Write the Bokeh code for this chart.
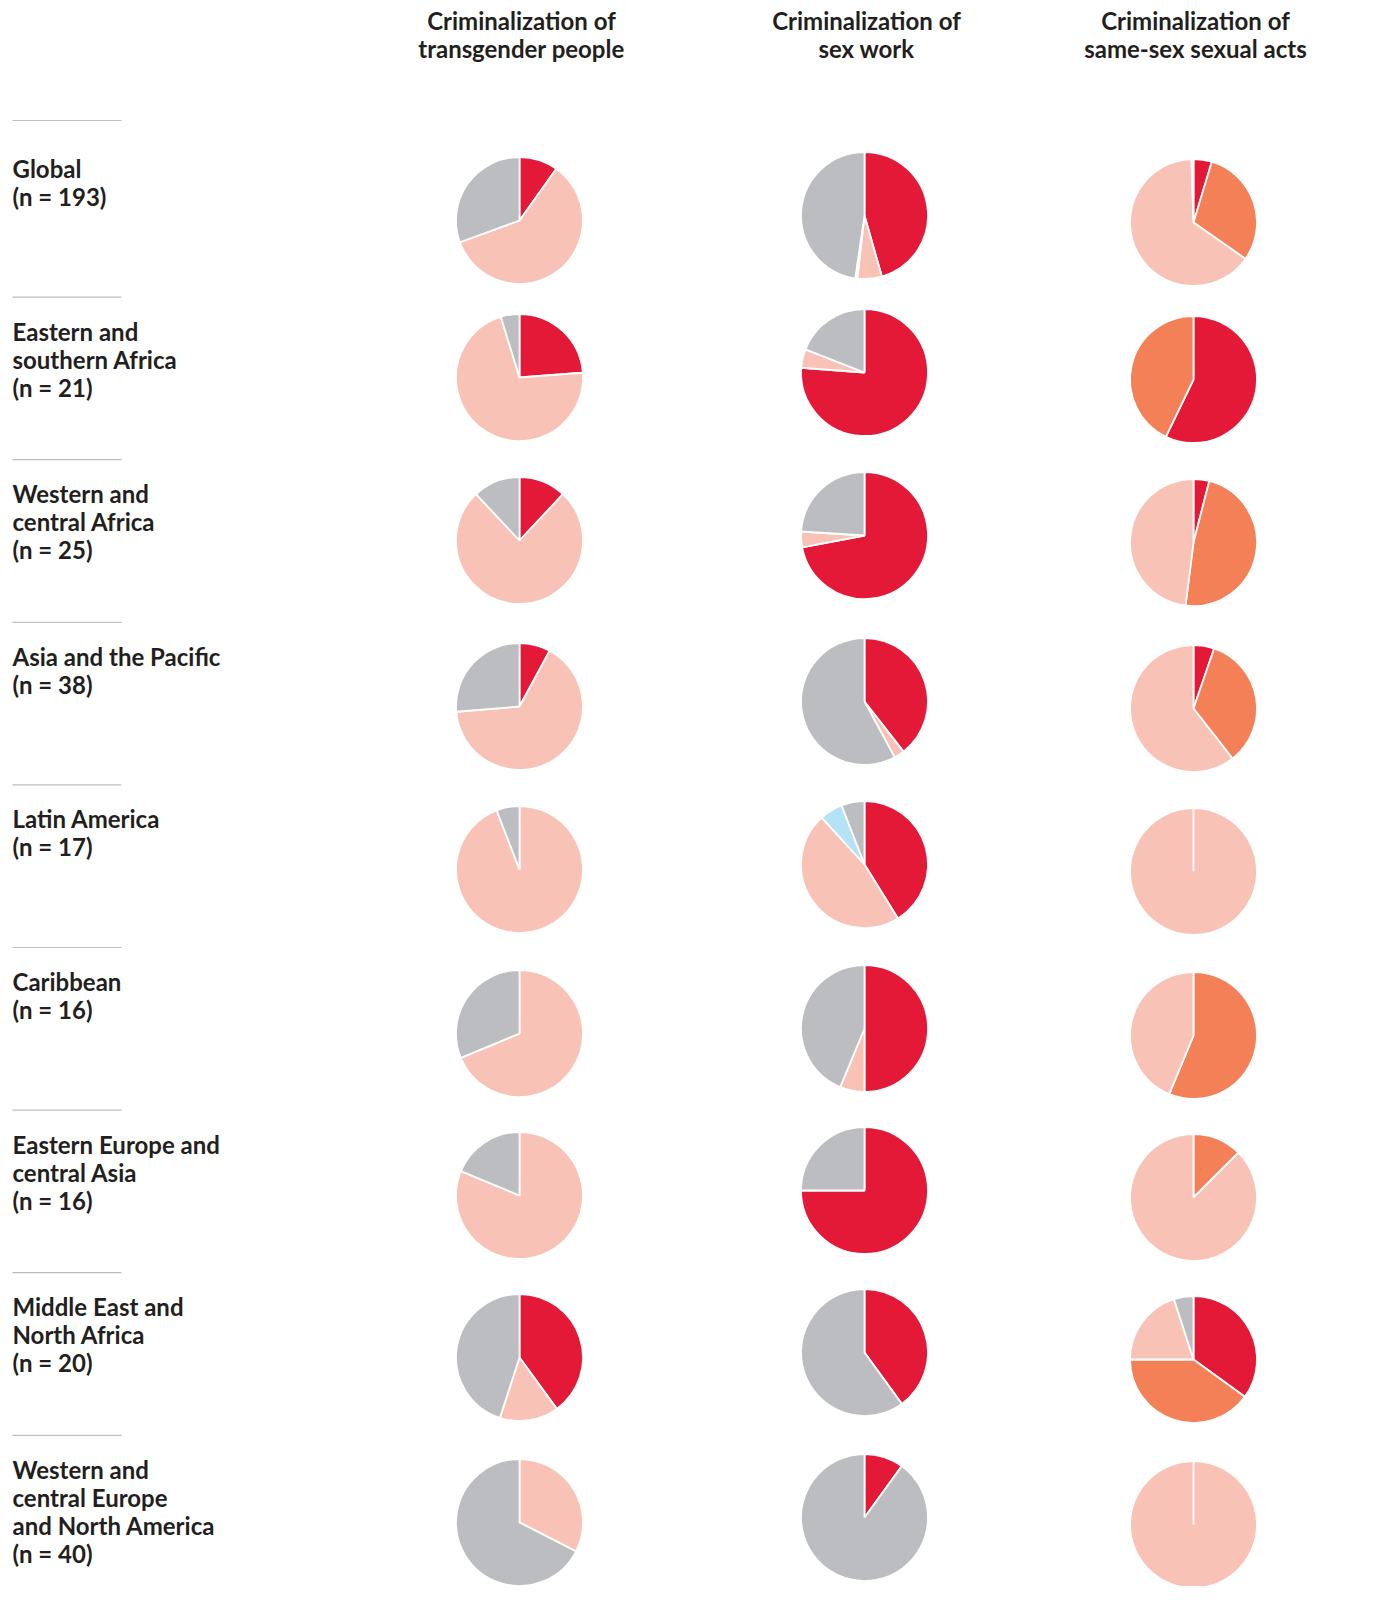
import math
from bokeh.plotting import figure
from bokeh.models import ColumnDataSource, Range1d
from bokeh.embed import file_html
from bokeh.resources import INLINE
from bokeh.core.properties import value

# ---------------- data ----------------
region_labels = [
    ["Global", "(n = 193)"],
    ["Eastern and", "southern Africa", "(n = 21)"],
    ["Western and", "central Africa", "(n = 25)"],
    ["Asia and the Pacific", "(n = 38)"],
    ["Latin America", "(n = 17)"],
    ["Caribbean", "(n = 16)"],
    ["Eastern Europe and", "central Asia", "(n = 16)"],
    ["Middle East and", "North Africa", "(n = 20)"],
    ["Western and", "central Europe", "and North America", "(n = 40)"],
]

column_titles = [
    ["Criminalization of", "transgender people"],
    ["Criminalization of", "sex work"],
    ["Criminalization of", "same-sex sexual acts"],
]

# Criminalization of transgender people (number of countries)
trans_criminalized = [19, 5, 3, 3, 0, 0, 0, 8, 0]
trans_not_criminalized = [115, 15, 19, 25, 16, 11, 13, 3, 13]
trans_no_data = [59, 1, 3, 10, 1, 5, 3, 9, 27]

# Criminalization of sex work
sw_criminalized = [88, 16, 18, 15, 7, 8, 12, 8, 4]
sw_not_criminalized = [12, 1, 1, 1, 8, 1, 0, 0, 0]
sw_legal = [1, 0, 0, 0, 1, 0, 0, 0, 0]
sw_no_data = [92, 4, 6, 22, 1, 7, 4, 12, 36]

# Criminalization of same-sex sexual acts
ss_red = [9, 12, 1, 2, 0, 0, 0, 7, 0]
ss_orange = [58, 9, 12, 13, 0, 9, 2, 8, 0]
ss_not_criminalized = [125, 0, 12, 23, 17, 7, 14, 4, 40]
ss_no_data = [1, 0, 0, 0, 0, 0, 0, 1, 0]

RED = "#E31937"
ORANGE = "#F48058"
PINK = "#F9C2B6"
GREY = "#BCBDC0"
BLUE = "#B5E2F7"
TEXT = "#231F20"

series_per_column = [
    [(trans_criminalized, RED), (trans_not_criminalized, PINK), (trans_no_data, GREY)],
    [(sw_criminalized, RED), (sw_not_criminalized, PINK), (sw_legal, BLUE), (sw_no_data, GREY)],
    [(ss_red, RED), (ss_orange, ORANGE), (ss_not_criminalized, PINK), (ss_no_data, GREY)],
]

# ---------------- layout ----------------
W, H = 1376, 1586
col_x = [519, 864, 1193]          # page x of pie columns
col_dy = [0, -5, 2]               # small vertical offset per column
pie_row_y = [220, 377, 540, 706, 869, 1033, 1195, 1357, 1522]
label_row0, label_pitch = 168, 162.6
radius = 63.5
font = "Lato"
fsize = "24px"
line_h = 28

p = figure(width=W, height=H, output_backend="svg", toolbar_location=None,
           x_range=Range1d(0, W), y_range=Range1d(H, 0), min_border=0)
p.axis.visible = False
p.grid.visible = False
p.outline_line_color = None
p.background_fill_color = "white"
p.border_fill_color = "white"

wx, wy, ws, we, wc = [], [], [], [], []
for ci, series in enumerate(series_per_column):
    for ri in range(len(region_labels)):
        total = sum(s[0][ri] for s in series)
        cum = 0.0
        for vals, color in series:
            v = vals[ri]
            if v <= 0:
                continue
            f0 = cum / total
            f1 = (cum + v) / total
            cum += v
            if f1 - f0 >= 0.99999:
                f1 = f0 + 0.99995
            wx.append(col_x[ci])
            wy.append(pie_row_y[ri] + col_dy[ci])
            ws.append(math.pi / 2 - 2 * math.pi * f1)
            we.append(math.pi / 2 - 2 * math.pi * f0)
            wc.append(color)

src = ColumnDataSource(dict(x=wx, y=wy, s=ws, e=we, c=wc))
p.wedge(x="x", y="y", radius=radius, radius_units="screen",
        start_angle="s", end_angle="e", direction="anticlock",
        fill_color="c", line_color="white", line_width=1.8, source=src)

# column titles
tx, ty, tt = [], [], []
for ci, lines in enumerate(column_titles):
    for li, t in enumerate(lines):
        tx.append(col_x[ci] + 2)
        ty.append(20 + li * line_h)
        tt.append(t)
p.text(x=tx, y=ty, text=tt, text_font=value(font), text_font_style="bold",
       text_font_size=fsize, text_color=TEXT, text_align="center",
       text_baseline="middle")

# row labels and separators
lx, ly, lt = [], [], []
sx0, sx1, sy = [], [], []
for ri, lines in enumerate(region_labels):
    top = label_row0 + ri * label_pitch
    for li, t in enumerate(lines):
        lx.append(12)
        ly.append(top + li * line_h)
        lt.append(t)
    sep = top - (48 if ri == 0 else 34)
    sx0.append(12); sx1.append(121); sy.append(sep)

p.text(x=lx, y=ly, text=lt, text_font=value(font), text_font_style="bold",
       text_font_size=fsize, text_color=TEXT, text_align="left",
       text_baseline="middle")
p.segment(x0=sx0, y0=sy, x1=sx1, y1=sy, line_color="#BCBDC0", line_width=1.2)

open("out.html", "w").write(file_html(p, INLINE))
